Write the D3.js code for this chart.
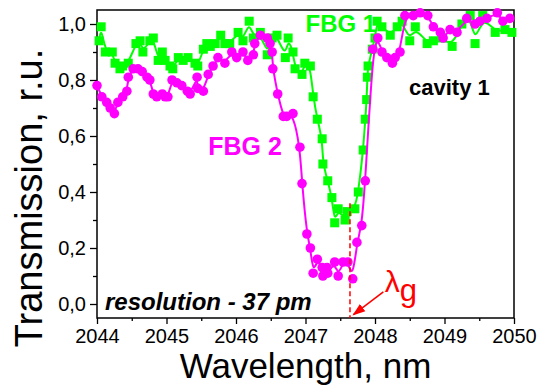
<!DOCTYPE html>
<html lang="en">
<head>
<meta charset="utf-8">
<title>FBG transmission</title>
<script src="https://cdnjs.cloudflare.com/ajax/libs/d3/7.8.5/d3.min.js"></script>
<style>
  body { margin: 0; background: #fff; }
  svg { display: block; font-family: Arial, "Liberation Sans", sans-serif; }
</style>
</head>
<body>
<script>
// wavelength (nm) and transmission
var fbg1Wl = [2044.03, 2044.06, 2044.12, 2044.22, 2044.26, 2044.33, 2044.37, 2044.45, 2044.56, 2044.62,
  2044.66, 2044.76, 2044.81, 2044.88, 2044.94, 2044.98, 2045.05, 2045.09, 2045.17, 2045.24,
  2045.31, 2045.41, 2045.45, 2045.53, 2045.58, 2045.63, 2045.70, 2045.78, 2045.84, 2045.91,
  2046.03, 2046.10, 2046.19, 2046.25, 2046.35, 2046.45, 2046.52, 2046.59, 2046.71, 2046.75,
  2046.82, 2046.85, 2046.95, 2046.99, 2047.07, 2047.11, 2047.17, 2047.24, 2047.25, 2047.32,
  2047.38, 2047.42, 2047.47, 2047.57, 2047.60, 2047.71, 2047.76, 2047.83, 2047.86, 2047.88,
  2047.89, 2047.90, 2047.96, 2048.00, 2048.03, 2048.10, 2048.22, 2048.32, 2048.39, 2048.50,
  2048.58, 2048.75, 2048.84, 2048.96, 2049.11, 2049.25, 2049.37, 2049.44, 2049.55, 2049.73,
  2049.87, 2049.97];
var fbg1T = [0.94, 0.99, 0.90, 0.90, 0.86, 0.84, 0.85, 0.86, 0.93, 0.94,
  0.90, 0.94, 0.95, 0.87, 0.90, 0.87, 0.85, 0.84, 0.88, 0.87,
  0.88, 0.86, 0.85, 0.91, 0.93, 0.92, 0.93, 0.96, 0.93, 0.93,
  0.97, 0.94, 1.01, 0.95, 0.97, 0.89, 0.95, 0.96, 0.88, 0.95,
  0.90, 0.84, 0.82, 0.86, 0.85, 0.74, 0.66, 0.59, 0.50, 0.44,
  0.38, 0.29, 0.34, 0.30, 0.33, 0.34, 0.40, 0.55, 0.66, 0.73,
  0.81, 0.85, 0.91, 0.95, 1.01, 0.99, 0.96, 0.99, 1.01, 0.94,
  0.99, 0.93, 0.94, 0.95, 0.92, 1.00, 1.03, 0.93, 1.03, 0.97,
  0.98, 0.97];

var fbg2Wl = [2044.00, 2044.07, 2044.14, 2044.19, 2044.25, 2044.30, 2044.37, 2044.43, 2044.45, 2044.52,
  2044.59, 2044.65, 2044.72, 2044.76, 2044.81, 2044.86, 2044.94, 2044.98, 2045.02, 2045.08,
  2045.15, 2045.22, 2045.30, 2045.34, 2045.44, 2045.45, 2045.53, 2045.60, 2045.67, 2045.74,
  2045.84, 2045.94, 2046.01, 2046.10, 2046.17, 2046.25, 2046.27, 2046.35, 2046.45, 2046.49,
  2046.52, 2046.53, 2046.60, 2046.68, 2046.73, 2046.82, 2046.92, 2046.95, 2047.02, 2047.07,
  2047.11, 2047.17, 2047.24, 2047.25, 2047.31, 2047.32, 2047.42, 2047.47, 2047.54, 2047.61,
  2047.68, 2047.74, 2047.81, 2047.86, 2047.97, 2048.04, 2048.10, 2048.17, 2048.25, 2048.29,
  2048.36, 2048.43, 2048.55, 2048.65, 2048.76, 2048.84, 2048.94, 2048.98, 2049.08, 2049.18,
  2049.32, 2049.44, 2049.51, 2049.61, 2049.76, 2049.84, 2049.94];
var fbg2T = [0.78, 0.74, 0.72, 0.70, 0.68, 0.72, 0.74, 0.76, 0.81, 0.84,
  0.84, 0.83, 0.81, 0.80, 0.75, 0.74, 0.75, 0.74, 0.74, 0.80,
  0.79, 0.78, 0.76, 0.75, 0.81, 0.77, 0.76, 0.82, 0.85, 0.88,
  0.86, 0.90, 0.88, 0.90, 0.87, 0.89, 0.93, 0.96, 0.95, 0.93,
  0.90, 0.84, 0.75, 0.67, 0.67, 0.68, 0.56, 0.43, 0.25, 0.20,
  0.11, 0.16, 0.13, 0.10, 0.13, 0.11, 0.15, 0.10, 0.15, 0.15,
  0.09, 0.22, 0.28, 0.44, 0.91, 0.95, 0.90, 0.88, 0.86, 0.88,
  0.90, 1.03, 1.03, 1.04, 1.03, 0.99, 0.97, 0.95, 0.98, 0.97,
  1.02, 1.00, 1.01, 1.02, 1.04, 1.01, 1.02];

var xTicks = [2044, 2045, 2046, 2047, 2048, 2049, 2050];
var yTicks = [0, 0.2, 0.4, 0.6, 0.8, 1.0];
var lambdaG = 2047.64;

var w = 538, h = 385;
var margin = {top: 10, right: 24, bottom: 67, left: 97};

var svg = d3.select("body").append("svg")
  .attr("width", w)
  .attr("height", h);

var x = d3.scaleLinear().domain([2044, 2050]).range([margin.left, w - margin.right]);
var y = d3.scaleLinear().domain([-0.05, 1.05]).range([h - margin.bottom, margin.top]);

var fmt = function(d) { return d3.format(".1f")(d).replace(".", ","); };

// minor ticks first, then major ticks with labels
svg.append("g")
  .attr("transform", "translate(0," + (h - margin.bottom) + ")")
  .call(d3.axisBottom(x).tickValues(d3.range(2044.5, 2050, 1)).tickSize(3).tickFormat(""))
  .call(function(g) { g.select(".domain").remove(); });
svg.append("g")
  .attr("transform", "translate(" + margin.left + ",0)")
  .call(d3.axisLeft(y).tickValues(d3.range(0.1, 1.05, 0.2)).tickSize(4).tickFormat(""))
  .call(function(g) { g.select(".domain").remove(); });

var xAxis = svg.append("g")
  .attr("transform", "translate(0," + (h - margin.bottom) + ")")
  .call(d3.axisBottom(x).tickValues(xTicks).tickSize(6).tickPadding(5).tickFormat(d3.format("d")));
xAxis.select(".domain").remove();
xAxis.selectAll("text").attr("font-size", 20).attr("fill", "#000").attr("font-family", "Arial, 'Liberation Sans', sans-serif");

var yAxis = svg.append("g")
  .attr("transform", "translate(" + margin.left + ",0)")
  .call(d3.axisLeft(y).tickValues(yTicks).tickSize(7).tickPadding(4).tickFormat(fmt));
yAxis.select(".domain").remove();
yAxis.selectAll("text").attr("font-size", 20).attr("fill", "#000").attr("font-family", "Arial, 'Liberation Sans', sans-serif");
svg.selectAll(".tick line").attr("stroke", "#000").attr("stroke-width", 1.3);

// frame
svg.append("rect")
  .attr("x", margin.left)
  .attr("y", margin.top)
  .attr("width", w - margin.left - margin.right)
  .attr("height", h - margin.top - margin.bottom)
  .attr("fill", "none")
  .attr("stroke", "#000")
  .attr("stroke-width", 1.5);

var green = "#00ff00", magenta = "#ff00ff";

var pts1 = fbg1Wl.map(function(d, i) { return [d, fbg1T[i]]; }).sort(function(a, b) { return a[0] - b[0]; });
var pts2 = fbg2Wl.map(function(d, i) { return [d, fbg2T[i]]; }).sort(function(a, b) { return a[0] - b[0]; });

var line = d3.line()
  .x(function(d) { return x(d[0]); })
  .y(function(d) { return y(d[1]); })
  .curve(d3.curveBasis);

svg.append("path").datum(pts1)
  .attr("d", line)
  .attr("fill", "none")
  .attr("stroke", green)
  .attr("stroke-width", 2);

svg.selectAll("rect.sq")
  .data(pts1)
  .enter()
  .append("rect")
  .attr("class", "sq")
  .attr("x", function(d) { return x(d[0]) - 4.5; })
  .attr("y", function(d) { return y(d[1]) - 4.5; })
  .attr("width", 9)
  .attr("height", 9)
  .attr("fill", green);

svg.append("path").datum(pts2)
  .attr("d", line)
  .attr("fill", "none")
  .attr("stroke", magenta)
  .attr("stroke-width", 2);

svg.selectAll("circle")
  .data(pts2)
  .enter()
  .append("circle")
  .attr("cx", function(d) { return x(d[0]); })
  .attr("cy", function(d) { return y(d[1]); })
  .attr("r", 4.8)
  .attr("fill", magenta);

// lambda_g marker
svg.append("line")
  .attr("x1", x(lambdaG)).attr("x2", x(lambdaG))
  .attr("y1", y(0.36)).attr("y2", y(-0.05))
  .attr("stroke", "#ff0000")
  .attr("stroke-width", 1.5)
  .attr("stroke-dasharray", "5,3");

svg.append("defs").append("marker")
  .attr("id", "arr")
  .attr("viewBox", "0 0 10 10")
  .attr("refX", 9).attr("refY", 5)
  .attr("markerWidth", 8).attr("markerHeight", 8)
  .attr("orient", "auto")
  .append("path")
  .attr("d", "M0,1.5 L10,5 L0,8.5 z")
  .attr("fill", "#ff0000");

svg.append("line")
  .attr("x1", x(2048.12)).attr("y1", y(0.043))
  .attr("x2", x(2047.69)).attr("y2", y(-0.038))
  .attr("stroke", "#ff0000")
  .attr("stroke-width", 1.6)
  .attr("marker-end", "url(#arr)");

var lg = svg.append("text")
  .attr("x", x(2048.14))
  .attr("y", 292)
  .attr("fill", "#ff0000");
lg.append("tspan").attr("font-size", 30).text("λ");
lg.append("tspan").attr("font-size", 31).attr("dy", 9).text("g");

// labels
svg.append("text")
  .attr("x", x(2047.0)).attr("y", 32)
  .attr("font-size", 24).attr("font-weight", "bold")
  .attr("fill", green)
  .text("FBG 1");

svg.append("text")
  .attr("x", x(2045.6)).attr("y", 155)
  .attr("font-size", 25).attr("font-weight", "bold")
  .attr("fill", magenta)
  .text("FBG 2");

svg.append("text")
  .attr("x", 409).attr("y", 95)
  .attr("font-size", 22).attr("font-weight", "bold")
  .attr("fill", "#000")
  .text("cavity 1");

svg.append("text")
  .attr("x", 105).attr("y", 310)
  .attr("font-size", 24).attr("font-weight", "bold").attr("font-style", "italic")
  .attr("fill", "#000")
  .text("resolution - 37 pm");

// axis titles
svg.append("text")
  .attr("x", (margin.left + w - margin.right) / 2)
  .attr("y", 378)
  .attr("text-anchor", "middle")
  .attr("font-size", 35)
  .attr("fill", "#000")
  .text("Wavelength, nm");

svg.append("text")
  .attr("transform", "translate(42,198) rotate(-90)")
  .attr("text-anchor", "middle")
  .attr("font-size", 38)
  .attr("fill", "#000")
  .text("Transmission, r.u.");
</script>
</body>
</html>
